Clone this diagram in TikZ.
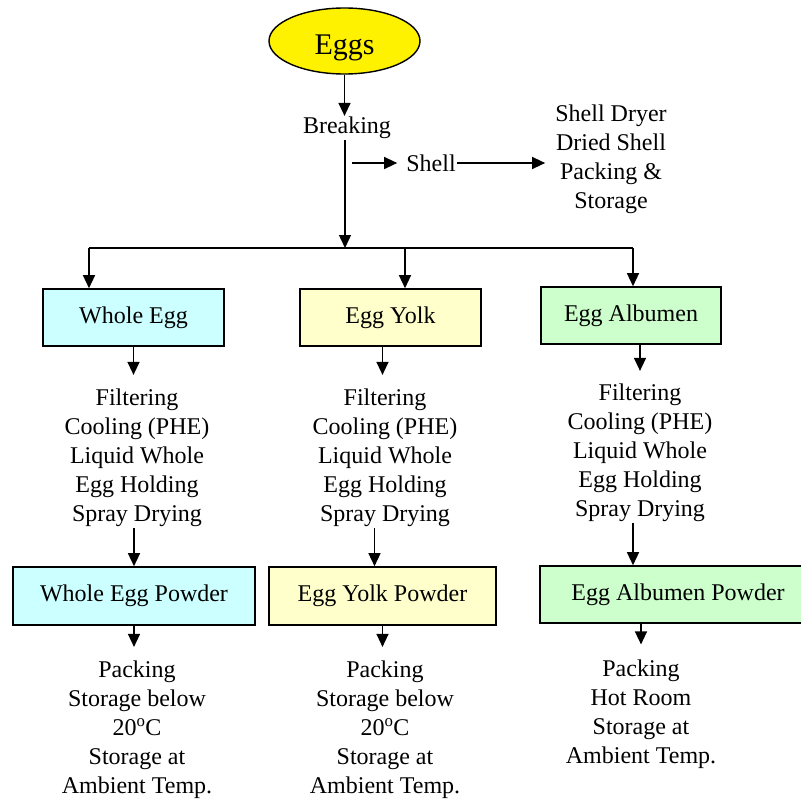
\documentclass[tikz,border=0pt]{standalone}
\usepackage{fontspec}
\setmainfont{Liberation Serif}
\usetikzlibrary{calc,arrows.meta,shapes.geometric}
\definecolor{wholefill}{HTML}{CCFFFF}
\definecolor{yolkfill}{HTML}{FFFFCC}
\definecolor{albfill}{HTML}{CCFFCC}
\tikzset{
  arr/.style={-{Triangle[length=13pt,width=12pt]}, line width=1.4pt},
  stage/.style={draw, line width=1.6pt, minimum height=57pt, inner sep=0pt,
    font=\fontsize{24}{29}\selectfont},
  txt/.style={align=center, inner sep=1pt, font=\fontsize{24}{29}\selectfont}
}

\begin{document}
\begin{tikzpicture}[x=1pt,y=-1pt]
\useasboundingbox (0,0) rectangle (801,800);

%原料と割卵
\node[ellipse, draw, line width=1.4pt, fill=yellow, minimum width=151pt,
  minimum height=66pt, inner sep=0pt, text height=28pt, text depth=0pt,
  font=\fontsize{30}{36}\selectfont] (eggs) at (344.5,41) {Eggs};
\node[txt] (breaking) at (347,128) {Breaking};
\node[txt] (shell) at (431,163) {Shell};
\node[txt, inner xsep=10pt] (dryer) at (611,159) {Shell Dryer\\Dried Shell\\Packing \&\\Storage};

%分岐線の座標
\coordinate (split) at (345,248);
\coordinate (jl) at (89,248);
\coordinate (jm) at (405,248);
\coordinate (jr) at (633,248);
\coordinate (shellfrom) at (352,163);

%液卵
\node[stage, fill=wholefill, minimum width=181pt] (whole) at (133.5,317.5) {Whole Egg};
\node[stage, fill=yolkfill, minimum width=181pt] (yolk) at (390.5,317.5) {Egg Yolk};
\node[stage, fill=albfill, minimum width=180pt] (albumen) at (631,315.5) {Egg Albumen};

%工程
\node[txt] (wsteps) at (137,458) {Filtering\\Cooling (PHE)\\Liquid Whole\\Egg Holding\\Spray Drying};
\node[txt] (ysteps) at (385,458) {Filtering\\Cooling (PHE)\\Liquid Whole\\Egg Holding\\Spray Drying};
\node[txt] (asteps) at (640,453) {Filtering\\Cooling (PHE)\\Liquid Whole\\Egg Holding\\Spray Drying};

%粉末
\node[stage, fill=wholefill, minimum width=242pt, minimum height=58pt] (wholepow) at (134,596) {Whole Egg Powder};
\node[stage, fill=yolkfill, minimum width=227pt, minimum height=58pt] (yolkpow) at (382.5,596) {Egg Yolk Powder};
\node[stage, fill=albfill, minimum width=276pt] (albpow) at (678,594.5) {Egg Albumen Powder};

%包装と保管
\node[txt] (wend) at (137,730) {Packing\\Storage below\\20\textsuperscript{o}C\\Storage at\\Ambient Temp.};
\node[txt] (yend) at (385,730) {Packing\\Storage below\\20\textsuperscript{o}C\\Storage at\\Ambient Temp.};
\node[txt] (aend) at (641,714) {Packing\\Hot Room\\Storage at\\Ambient Temp.};

%矢印
\draw[arr] (eggs.south) -- (eggs.south |- breaking.north);
\draw[arr] (breaking.south -| split) -- (split);
\draw[line width=1.4pt] (jl) -- (jr);
\draw[arr] (shellfrom) -- ($(shell.west)+(-8,0)$);
\draw[arr] (shell.east) -- (shell.east -| dryer.west);
\draw[arr] (jl) -- (jl |- whole.north);
\draw[arr] (jm) -- (jm |- yolk.north);
\draw[arr] (jr) -- (jr |- albumen.north);

\draw[arr, shorten >=13pt] (whole.south) -- (whole.south |- wsteps.north);
\draw[arr] (wsteps.south -| wholepow.north) -- (wholepow.north);
\draw[arr, shorten >=13pt] (wholepow.south) -- (wholepow.south |- wend.north);

\draw[arr, shorten >=13pt] (yolk.south -| yolkpow.north) -- (yolkpow.north |- ysteps.north);
\draw[arr] ($(yolkpow.north |- ysteps.south)+(-8,0)$) -- ($(yolkpow.north)+(-8,0)$);
\draw[arr, shorten >=13pt] (yolkpow.south) -- (yolkpow.south |- yend.north);

\draw[arr, shorten >=12pt] (albumen.south -| asteps.north) -- (asteps.north);
\draw[arr] (asteps.south -| jr) -- (albpow.north -| jr);
\draw[arr, shorten >=14pt] (albpow.south -| aend.north) -- (aend.north);
\end{tikzpicture}
\end{document}
